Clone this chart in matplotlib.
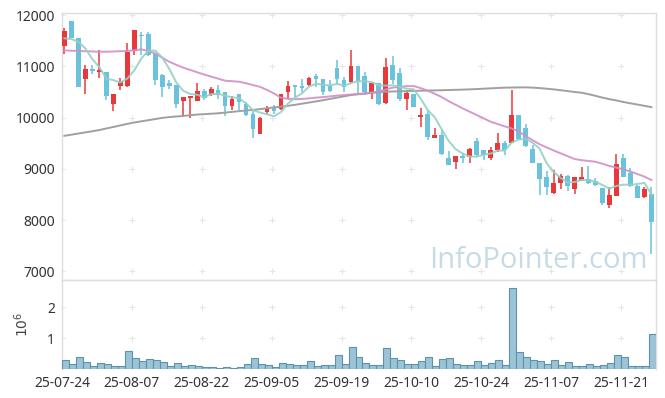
import numpy as np
import pandas as pd
import matplotlib
matplotlib.use('Agg')
import matplotlib.pyplot as plt

plt.rcParams['font.family'] = ['Noto Sans', 'DejaVu Sans']

tick_labels = ['25-07-24', '25-08-07', '25-08-22', '25-09-05', '25-09-19',
               '25-10-10', '25-10-24', '25-11-07', '25-11-21']

opens = [11400, 11880, 11550, 10750, 10950, 10890, 10880, 10270, 10620, 10620,
         11300, 11620, 11640, 11250, 10840, 10670, 10630, 10330, 10390, 10330,
         10520, 10450, 10540, 10490, 10230, 10460, 10270, 10070, 9680, 10110,
         10180, 10160, 10500, 10630, 10610, 10640, 10810, 10750, 10610, 10960,
         10730, 10700, 11000, 10810, 10500, 10670, 10290, 11020, 10870, 10370,
         10460, 10020, 10070, 9610, 9670, 9210, 9140, 9250, 9230, 9540,
         9370, 9210, 9370, 9510, 9500, 10050, 9790, 9390, 9110, 8840,
         8540, 8730, 8860, 8600, 8770, 8800, 8770, 8620, 8300, 8470,
         9210, 8930, 8670, 8450, 8520]
highs = [11740, 11880, 11550, 11030, 11030, 11320, 10890, 10470, 10770, 11450,
         11710, 11670, 11670, 11260, 10850, 10730, 10640, 10410, 10420, 10680,
         10560, 10600, 10640, 10500, 10420, 10470, 10300, 10150, 10010, 10230,
         10250, 10460, 10710, 10640, 10750, 10800, 10850, 10750, 10730, 11120,
         10790, 11320, 11010, 10890, 10670, 10680, 11170, 11200, 10960, 10490,
         10460, 10180, 10150, 9790, 9760, 9340, 9260, 9320, 9400, 9600,
         9370, 9420, 9700, 9540, 10540, 10050, 9870, 9470, 9110, 8950,
         8970, 8910, 8880, 8840, 9030, 9060, 8820, 8630, 8650, 9290,
         9300, 9010, 8690, 8650, 8640]
lows = [11250, 11550, 10600, 10470, 10850, 10770, 10340, 10120, 10540, 10600,
        11220, 11220, 11200, 10640, 10410, 10560, 10190, 10010, 10000, 10320,
        10340, 10420, 10360, 10030, 10150, 10150, 10030, 9610, 9680, 10070,
        10080, 10150, 10360, 10410, 10500, 10620, 10590, 10440, 10500, 10640,
        10490, 10670, 10450, 10450, 10370, 10250, 10260, 10650, 10330, 10150,
        10200, 9810, 9560, 9610, 9270, 9070, 8990, 9110, 9110, 9240,
        9170, 9170, 9330, 9270, 9500, 9570, 9430, 9110, 8490, 8490,
        8520, 8600, 8570, 8510, 8770, 8710, 8660, 8290, 8230, 8470,
        8840, 8640, 8430, 8430, 7350]
closes = [11690, 11560, 10600, 10950, 10900, 10920, 10430, 10460, 10710, 11280,
          11710, 11600, 11220, 10730, 10600, 10620, 10270, 10400, 10420, 10520,
          10390, 10560, 10440, 10230, 10360, 10310, 10050, 9780, 10000, 10180,
          10120, 10460, 10610, 10590, 10580, 10780, 10750, 10500, 10520, 10750,
          10590, 11000, 10700, 10500, 10670, 10270, 10980, 10730, 10360, 10480,
          10210, 10050, 9630, 9670, 9290, 9080, 9250, 9210, 9380, 9270,
          9270, 9370, 9500, 9370, 10050, 9580, 9440, 9110, 8800, 8640,
          8720, 8860, 8660, 8840, 8840, 8720, 8690, 8340, 8490, 9100,
          8850, 8660, 8430, 8600, 7970]
prior_closes = [11630, 10860, 11600, 11950]

ma20 = [11310, 11305, 11300, 11295, 11290, 11285, 11285, 11290, 11295, 11300,
        11315, 11330, 11300, 11250, 11170, 11090, 11030, 10975, 10930, 10885,
        10840, 10800, 10760, 10720, 10710, 10700, 10670, 10635, 10600, 10540,
        10470, 10390, 10365, 10360, 10365, 10375, 10390, 10400, 10415, 10430,
        10440, 10450, 10460, 10475, 10490, 10510, 10550, 10585, 10600, 10615,
        10615, 10575, 10525, 10465, 10400, 10320, 10250, 10180, 10115, 10050,
        9985, 9920, 9875, 9830, 9790, 9730, 9640, 9560, 9480, 9420,
        9360, 9304, 9250, 9193, 9170, 9155, 9140, 9100, 9057, 9025,
        8993, 8950, 8900, 8850, 8784]
ma120 = [9645, 9668, 9690, 9712, 9735, 9758, 9788, 9818, 9848, 9878,
         9905, 9928, 9950, 9972, 9995, 10010, 10022, 10034, 10046, 10060,
         10068, 10076, 10084, 10098, 10112, 10126, 10140, 10150, 10166, 10182,
         10198, 10214, 10230, 10250, 10272, 10294, 10316, 10340, 10365, 10390,
         10415, 10440, 10455, 10468, 10481, 10494, 10505, 10510, 10514, 10518,
         10522, 10525, 10528, 10531, 10534, 10538, 10542, 10546, 10551, 10557,
         10564, 10571, 10578, 10584, 10587, 10589, 10590, 10585, 10576, 10564,
         10551, 10535, 10518, 10500, 10486, 10458, 10425, 10390, 10360, 10335,
         10305, 10279, 10255, 10230, 10205]

# volume in millions of shares
volume = [0.29, 0.17, 0.39, 0.23, 0.11, 0.19, 0.16, 0.11, 0.11, 0.58,
          0.35, 0.26, 0.32, 0.29, 0.23, 0.11, 0.19, 0.11, 0.14, 0.10,
          0.065, 0.065, 0.03, 0.065, 0.03, 0.065, 0.16, 0.35, 0.16, 0.13,
          0.07, 0.19, 0.16, 0.13, 0.13, 0.26, 0.10, 0.13, 0.13, 0.45,
          0.16, 0.72, 0.40, 0.19, 0.13, 0.13, 0.69, 0.36, 0.30, 0.16,
          0.16, 0.26, 0.39, 0.10, 0.32, 0.35, 0.16, 0.13, 0.13, 0.26,
          0.13, 0.19, 0.29, 0.13, 2.61, 0.55, 0.39, 0.29, 0.26, 0.16,
          0.29, 0.13, 0.23, 0.10, 0.10, 0.16, 0.10, 0.13, 0.19, 0.45,
          0.39, 0.10, 0.10, 0.10, 1.13]

RED = '#e8383a'
BLUE = '#6ac3da'
GRID = '#e6e6e6'

o = np.array(opens)
c = np.array(closes)
x = np.arange(len(c))
cols = np.where(c >= o, RED, BLUE)
ma5 = pd.Series(prior_closes + closes).rolling(5).mean().iloc[4:].to_numpy()

fig = plt.figure(figsize=(6.65, 3.98), dpi=100)
ax = fig.add_axes([62 / 665, 1 - 280 / 398, 594 / 665, 267 / 398])
axv = fig.add_axes([62 / 665, 1 - 369.3 / 398, 594 / 665, 89.3 / 398], sharex=ax)

bw = 0.68
ax.vlines(x + bw / 2, lows, highs, colors=cols, lw=1.1, zorder=3)
ax.bar(x, np.maximum(np.abs(c - o), 12), bottom=np.minimum(o, c), width=bw,
       align='edge', color=cols, zorder=3)
ax.plot(x + bw / 2, ma120, color='#a0a0a0', lw=1.4, zorder=4)
ax.plot(x + bw / 2, ma20, color='#d08fc6', lw=1.4, alpha=0.9, zorder=4)
ax.plot(x + bw / 2, ma5, color='#93d1c7', lw=1.4, alpha=0.9, zorder=4)

axv.bar(x, volume, width=1, align='edge', facecolor='#9cc4d6',
        edgecolor='#5d92ac', lw=0.8, zorder=3)

xt = np.arange(0, len(c), 10)
yt = np.arange(7000, 12001, 1000)
ax.set_xlim(0, 85)
ax.set_ylim(6834, 12040)
ax.set_yticks(yt)
axv.set_ylim(0, 2.87)
axv.set_yticks([1, 2])
axv.set_xticks(xt)
axv.set_xticklabels(tick_labels)
axv.set_ylabel('$10^6$', fontsize=10, color='#444444')
axv.yaxis.set_label_coords(-0.05, 0.5)

# small '+' marks at the grid crossings
gx, gy = np.meshgrid(xt, yt)
ax.scatter(gx.ravel(), gy.ravel(), marker='+', s=16, color=GRID, lw=0.8, zorder=1)
gx, gy = np.meshgrid(xt, [1, 2])
axv.scatter(gx.ravel(), gy.ravel(), marker='+', s=16, color=GRID, lw=0.8, zorder=1)

for a in (ax, axv):
    a.tick_params(length=0, labelsize=10, colors='#333333', pad=5)
    for s in a.spines.values():
        s.set_color('#dddddd')
        s.set_linewidth(1)
axv.spines['bottom'].set_visible(False)
ax.tick_params(labelbottom=False)

ax.text(0.9865, 0.045, 'InfoPointer.com', transform=ax.transAxes, ha='right',
        va='baseline', fontsize=21, color='#c6dbe6', family='Open Sans', zorder=5)

fig.savefig('out.png', dpi=100)
